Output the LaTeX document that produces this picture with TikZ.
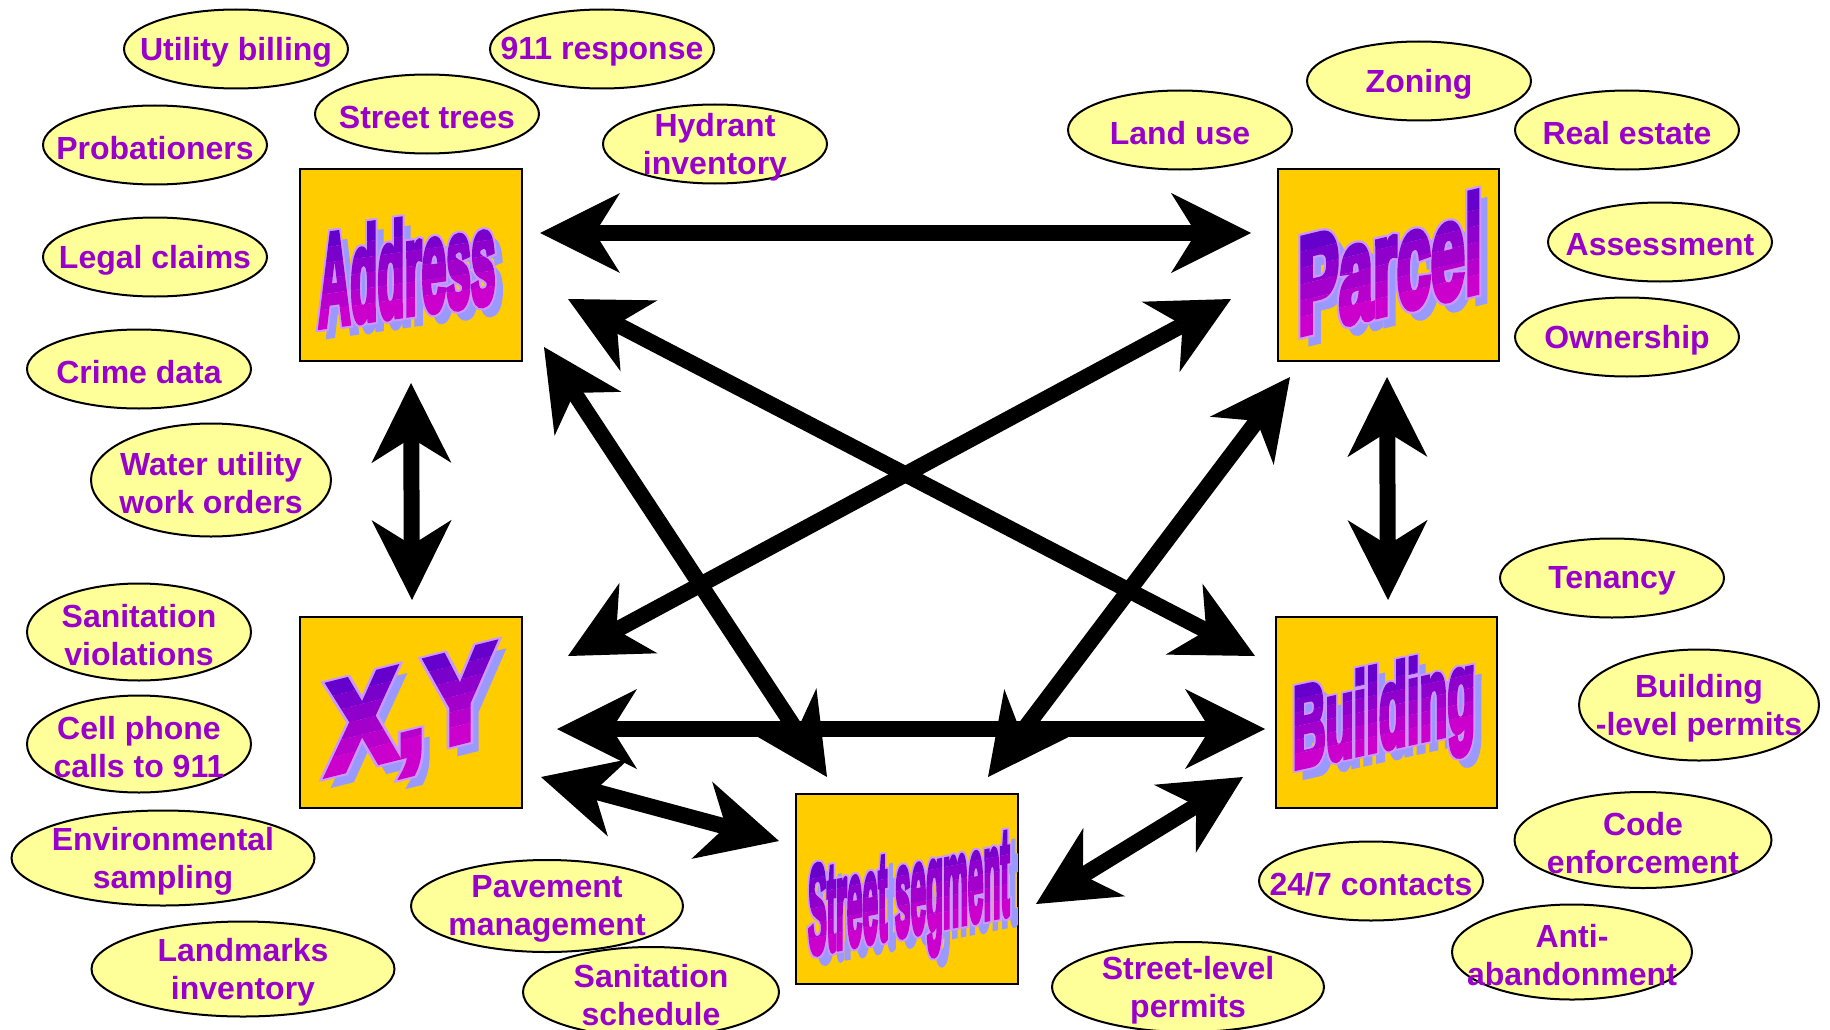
\documentclass[tikz,border=0pt]{standalone}
\usepackage{fontspec}
\setmainfont{Liberation Sans}
\newfontfamily\waFill[BoldFeatures={FakeBold=6}]{Liberation Sans}
\newfontfamily\waOut[BoldFeatures={FakeBold=9}]{Liberation Sans}
\usetikzlibrary{arrows.meta,shapes.geometric}
\definecolor{boxgold}{HTML}{FFCC00}
\definecolor{ellfill}{HTML}{FFFF99}
\definecolor{lbl}{HTML}{9900CC}
\definecolor{wshadow}{HTML}{9999FF}
\definecolor{woutline}{HTML}{CC99FF}
\definecolor{wtop}{HTML}{6600CC}
\definecolor{wbot}{HTML}{CC00CC}
\tikzset{
  boxst/.style={draw, line width=2.5pt, fill=boxgold, rectangle, inner sep=0pt},
  ellst/.style={draw, line width=2pt, fill=ellfill, ellipse, inner sep=0pt},
  labst/.style={text=lbl, align=center, inner sep=0pt, yshift=-3pt, font=\fontsize{32}{38}\selectfont\bfseries},
  wa/.style={anchor=base, inner sep=0pt, font=\waFill\bfseries\fontsize{#1}{#1}\selectfont},
  wao/.style={anchor=base, inner sep=0pt, font=\waOut\bfseries\fontsize{#1}{#1}\selectfont},
  arr/.style={line width=16pt, >={Stealth[length=80pt,width=80pt,inset=25pt,line width=0pt]}, <->}
}
\newcommand\Ell[6]{%
  \node[ellst, minimum width=#4pt, minimum height=#5pt] (#1) at (#2,#3) {};
  \node[labst] (#1-t) at (#1) {#6};
}
\newcommand\WordArt[7]{% name, x, y, font size, xscale, yslant, text
  \begin{scope}[shift={(#2+8,#3+9)}, yslant=#6, xscale=#5, transform shape]
    \node[wa={#4}, text=wshadow] (#1-s) at (0,{0.36*#4}) {#7};
  \end{scope}
  \foreach \dx [count=\i] in {-1.2,1.2}{
    \begin{scope}[shift={(#2+\dx,#3)}, yslant=#6, xscale=#5, transform shape]
      \node[wao={#4}, text=woutline] (#1-o\i) at (0,{0.36*#4}) {#7};
    \end{scope}
  }
  \foreach \k in {0,...,5}{
    \pgfmathsetmacro\ya{\k==0 ? -3000 : (-0.36+0.12*\k)*#4}
    \pgfmathsetmacro\yb{\k==5 ? 3000 : (-0.36+0.12*(\k+1))*#4}
    \pgfmathtruncatemacro\pc{\k*100/5}
    \begin{scope}[shift={(#2,#3)}, yslant=#6, xscale=#5, transform shape]
      \clip (-3000,\ya) rectangle (3000,\yb);
      \node[wa={#4}, text=wbot!\pc!wtop] (#1-g\k) at (0,{0.36*#4}) {#7};
    \end{scope}
  }
}
\begin{document}
\begin{tikzpicture}[x=1pt, y=-1pt]
\useasboundingbox (0,0) rectangle (1830,1030);
% ellipses
\Ell{e1}{236}{49}{224}{79}{Utility billing}
\Ell{e2}{602}{49}{224}{79}{911 response}
\Ell{e3}{427}{114}{224}{79}{Street trees}
\Ell{e4}{155}{145}{224}{79}{Probationers}
\Ell{e5}{715}{144}{224}{79}{Hydrant\\inventory}
\Ell{e6}{155}{257}{224}{79}{Legal claims}
\Ell{e7}{139}{369}{224}{79}{Crime data}
\Ell{e8}{211}{480}{240}{113}{Water utility\\work orders}
\Ell{e9}{139}{632}{224}{97}{Sanitation\\violations}
\Ell{e10}{139}{744}{224}{97}{Cell phone\\calls to 911}
\Ell{e11}{163}{858}{303}{95}{Environmental\\sampling}
\Ell{e12}{243}{969}{303}{95}{Landmarks\\inventory}
\Ell{e13}{547}{906}{272}{92}{Pavement\\management}
\Ell{e14}{651}{992}{256}{90}{Sanitation\\schedule}
\Ell{e15}{1188}{987}{272}{90}{Street-level\\permits}
\Ell{e16}{1371}{881}{224}{79}{24/7 contacts}
\Ell{e17}{1643}{840}{257}{96}{Code\\enforcement}
\Ell{e18}{1572}{952}{240}{95}{Anti-\\abandonment}
\Ell{e19}{1699}{705}{240}{111}{Building\\-level permits}
\Ell{e20}{1612}{578}{224}{79}{Tenancy}
\Ell{e21}{1180}{130}{224}{79}{Land use}
\Ell{e22}{1419}{81}{224}{79}{Zoning}
\Ell{e23}{1627}{130}{224}{79}{Real estate}
\Ell{e24}{1660}{242}{224}{79}{Assessment}
\Ell{e25}{1627}{337}{224}{79}{Ownership}
% boxes
\node[boxst, minimum width=222pt, minimum height=192pt] (addr) at (411,265) {};
\node[boxst, minimum width=221pt, minimum height=192pt] (parc) at (1388.5,265) {};
\node[boxst, minimum width=222pt, minimum height=191pt] (xy) at (411,712.5) {};
\node[boxst, minimum width=221pt, minimum height=191pt] (bldg) at (1386.5,712.5) {};
\node[boxst, minimum width=222pt, minimum height=190pt] (strs) at (907,889) {};
% word art
\WordArt{wA}{407}{267}{130}{0.34}{0.14}{Address}
\WordArt{wP}{1390}{263}{136}{0.45}{0.24}{Parcel}
\WordArt{wX}{411}{707}{128}{0.81}{0.25}{X,Y}
\WordArt{wB}{1384}{707}{114}{0.40}{0.22}{Building}
\WordArt{wS}{909}{889}{124}{0.225}{0.2}{Street segment}
% arrow ends
\coordinate (aP1) at (540,233); \coordinate (aP2) at (1251,233);
\coordinate (aX1) at (411,383); \coordinate (aX2) at (412,600);
\coordinate (pB1) at (1387,377); \coordinate (pB2) at (1388,600);
\coordinate (xB1) at (557,729); \coordinate (xB2) at (1265,729);
\coordinate (aB1) at (568,299); \coordinate (aB2) at (1255,656);
\coordinate (xP1) at (568,656); \coordinate (xP2) at (1231,299);
\coordinate (aS1) at (544,347); \coordinate (aS2) at (827,777);
\coordinate (pS1) at (1290,377); \coordinate (pS2) at (988,777);
\coordinate (xS1) at (541,777); \coordinate (xS2) at (779,841);
\coordinate (bS1) at (1243,777); \coordinate (bS2) at (1036,904);
\draw[arr] (aP1) -- (aP2);
\draw[arr] (aX1) -- (aX2);
\draw[arr] (pB1) -- (pB2);
\draw[arr] (xB1) -- (xB2);
\draw[arr] (aB1) -- (aB2);
\draw[arr] (xP1) -- (xP2);
\draw[arr] (aS1) -- (aS2);
\draw[arr] (pS1) -- (pS2);
\draw[arr] (xS1) -- (xS2);
\draw[arr] (bS1) -- (bS2);
\end{tikzpicture}
\end{document}
